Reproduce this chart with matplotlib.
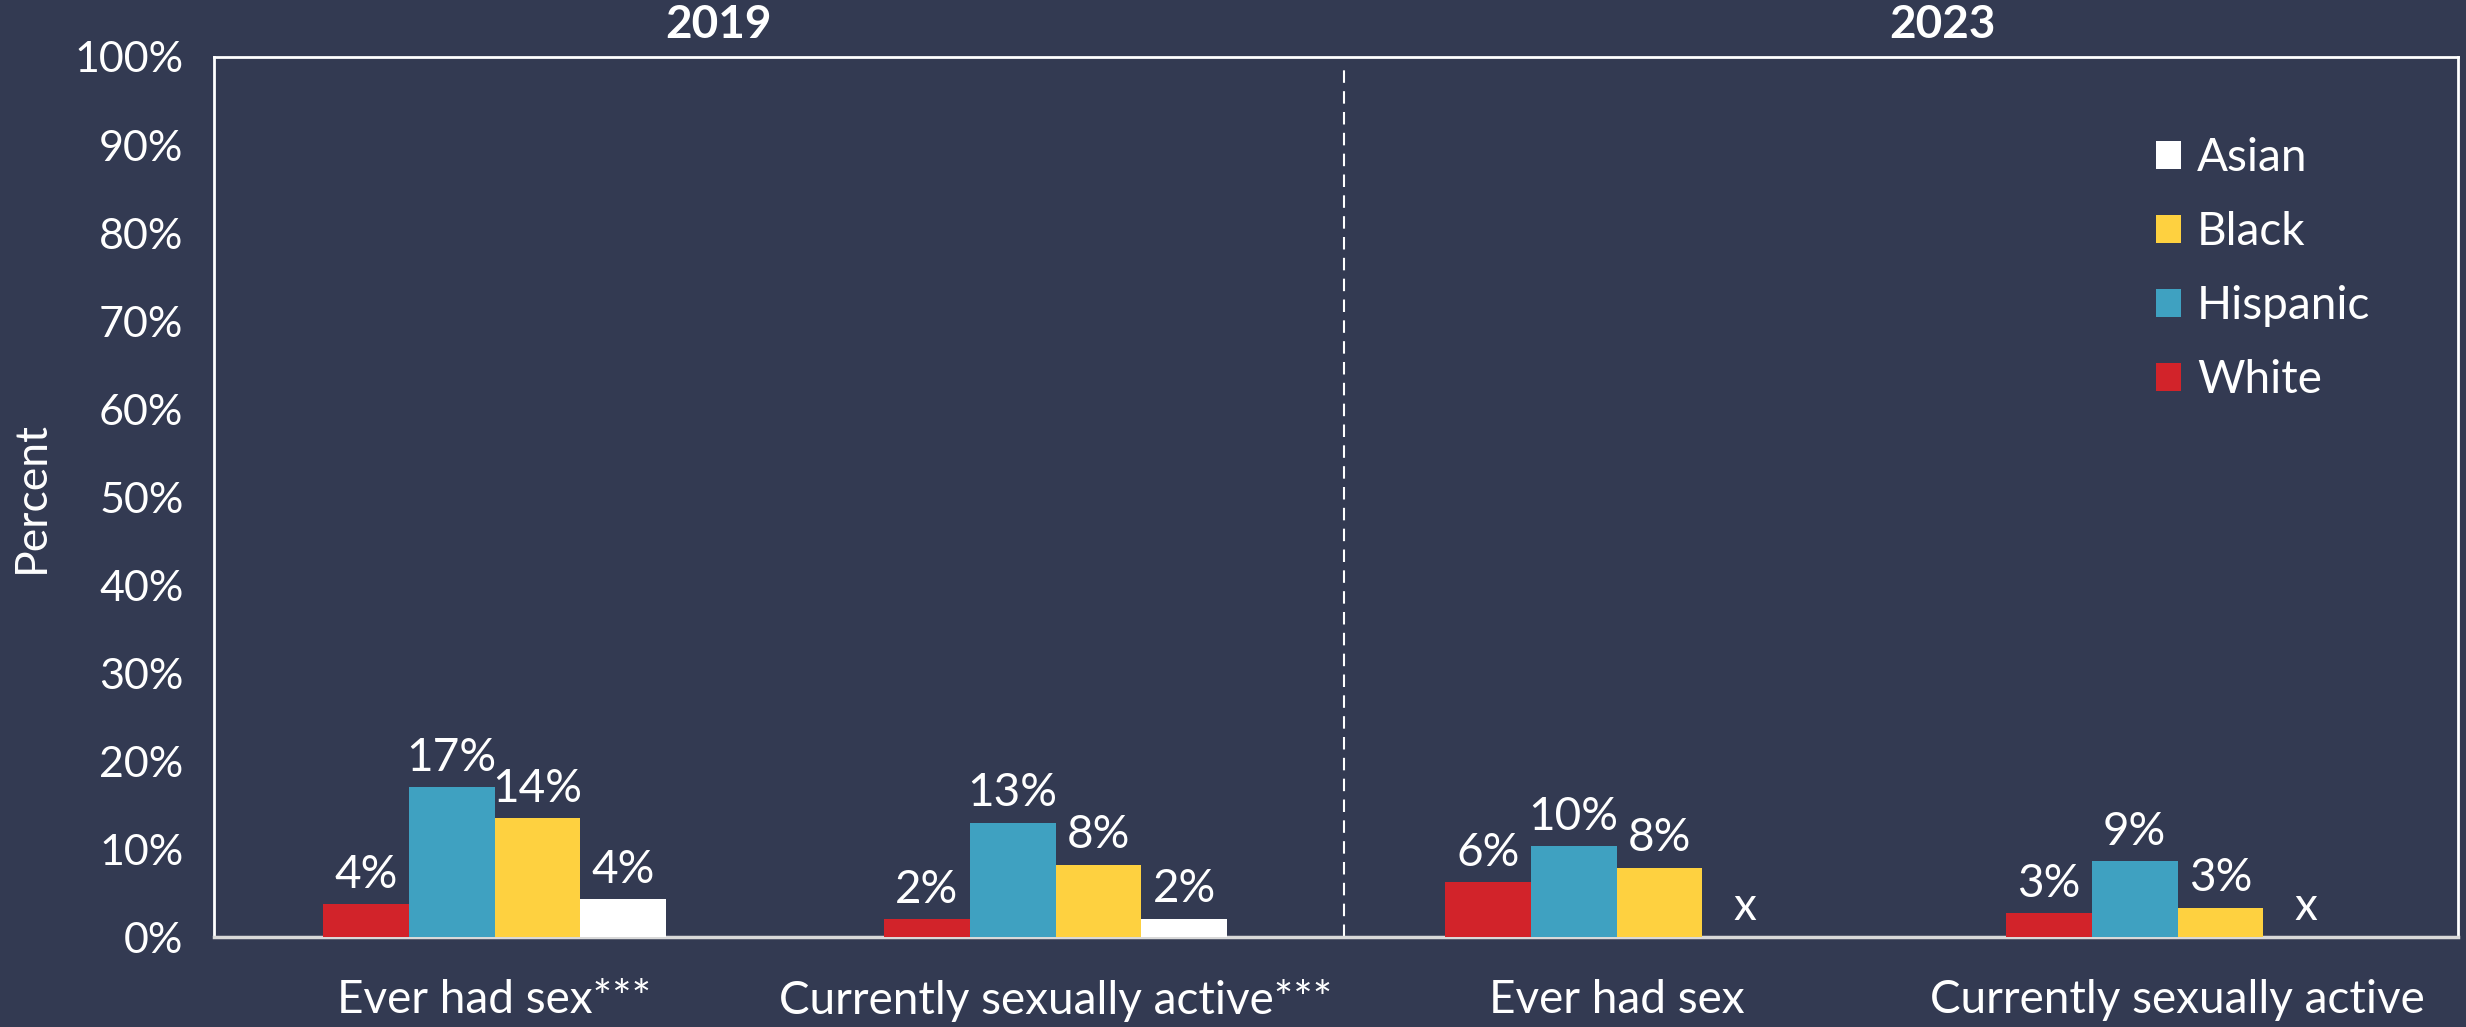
import matplotlib
matplotlib.use("Agg")
import matplotlib.pyplot as plt
import numpy as np
from matplotlib.patches import Patch

plt.rcParams['font.family'] = ['Lato', 'DejaVu Sans']

categories = ["Ever had sex***", "Currently sexually active***", "Ever had sex", "Currently sexually active"]
groups = ["White", "Hispanic", "Black", "Asian"]
white = [3.7, 2.0, 6.2, 2.7]
hispanic = [17.0, 13.0, 10.3, 8.6]
black = [13.5, 8.2, 7.9, 3.3]
asian = [4.3, 2.1, 0.0, 0.0]
white_lbl = ["4%", "2%", "6%", "3%"]
hispanic_lbl = ["17%", "13%", "10%", "9%"]
black_lbl = ["14%", "8%", "8%", "3%"]
asian_lbl = ["4%", "2%", "x", "x"]
years = ["2019", "2023"]
yticks = [0, 10, 20, 30, 40, 50, 60, 70, 80, 90, 100]

BG = "#333a52"
colors = {"White": "#d2232a", "Hispanic": "#3fa1c1", "Black": "#fed140", "Asian": "#ffffff"}

fig = plt.figure(figsize=(24.66, 10.27), dpi=100)
fig.patch.set_facecolor(BG)
ax = fig.add_axes([0.0868, 0.0876, 0.9100, 0.8569])
ax.set_facecolor(BG)

x = np.arange(len(categories))
w = 0.153
series = [(white, white_lbl, "White"), (hispanic, hispanic_lbl, "Hispanic"),
          (black, black_lbl, "Black"), (asian, asian_lbl, "Asian")]
for i, (vals, lbls, name) in enumerate(series):
    xs = x + (i - 1.5) * w
    ax.bar(xs, vals, width=w, color=colors[name], edgecolor="none", zorder=3)
    for xi, v, lab in zip(xs, vals, lbls):
        ax.annotate(lab, (xi, v), xytext=(0, 12), textcoords="offset points",
                    ha="center", va="baseline", color="white", fontsize=33, zorder=4)

ax.set_xlim(-0.5, 3.5)
ax.set_ylim(0, 100)
ax.set_yticks(yticks)
ax.set_yticklabels([f"{t}%" for t in yticks])
ax.set_xticks(x)
ax.set_xticklabels(categories)
ax.tick_params(axis="both", length=0, colors="white")
ax.tick_params(axis="x", pad=30, labelsize=33)
ax.tick_params(axis="y", pad=22, labelsize=31)
ax.set_ylabel("Percent", color="white", fontsize=32, labelpad=16)

for s in ["top", "left", "right"]:
    ax.spines[s].set_color("white")
    ax.spines[s].set_linewidth(2.0)
ax.spines["bottom"].set_color("#d9d9d9")
ax.spines["bottom"].set_linewidth(2.5)

ax.plot([1.515, 1.515], [0, 99], color="white", lw=1.5, ls=(0, (6, 4)), zorder=2)

ax.text(0.40, 101.3, years[0], ha="center", va="bottom", color="white", fontsize=33, fontweight="bold")
ax.text(2.58, 101.3, years[1], ha="center", va="bottom", color="white", fontsize=33, fontweight="bold")

handles = [Patch(facecolor=colors[g], edgecolor="none", label=g) for g in reversed(groups)]
leg = ax.legend(handles=handles, loc="upper left", bbox_to_anchor=(0.857, 0.93),
                frameon=False, fontsize=33, handlelength=0.55, handleheight=0.55,
                handletextpad=0.35, labelspacing=0.70, borderaxespad=0)
for t in leg.get_texts():
    t.set_color("white")

fig.savefig("out.png", dpi=100, facecolor=BG)
